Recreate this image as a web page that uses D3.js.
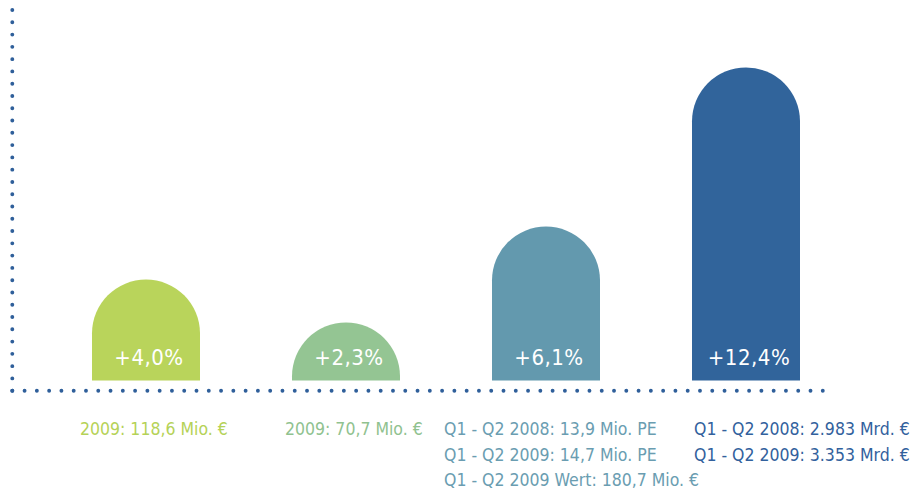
<!DOCTYPE html>
<html>
<head>
<meta charset="utf-8">
<script src="https://cdn.jsdelivr.net/npm/d3@7"></script>
<style>
  html, body { margin: 0; padding: 0; background: #fff; }
  #chart text { font-family: 'DejaVu Sans Condensed', 'DejaVu Sans', sans-serif; font-stretch: condensed; }
</style>
</head>
<body>
<div id="chart"></div>
<script>
const categories = ['a', 'b', 'c', 'd'];
const growth = [4.0, 2.3, 6.1, 12.4];
const growthLabels = ['+4,0%', '+2,3%', '+6,1%', '+12,4%'];
const notes = [
  ['2009: 118,6 Mio. €'],
  ['2009: 70,7 Mio. €'],
  ['Q1 - Q2 2008: 13,9 Mio. PE', 'Q1 - Q2 2009: 14,7 Mio. PE', 'Q1 - Q2 2009 Wert: 180,7 Mio. €'],
  ['Q1 - Q2 2008: 2.983 Mrd. €', 'Q1 - Q2 2009: 3.353 Mrd. €'],
];
const barColors = ['#b9d45b', '#94c593', '#6399ae', '#31649b'];
const noteColors = ['#b5d257', '#90c28f', '#6a9db1', '#32619d'];

const width = 916;
const height = 491;
const axisColor = '#2f5f9a';

const svg = d3
  .select('#chart')
  .append('svg')
  .attr('width', width)
  .attr('height', height);

// scales
const x = d3
  .scaleBand()
  .domain(categories)
  .range([46, 846])
  .paddingInner(0.46)
  .paddingOuter(0.23);

const y = d3.scaleLinear().domain([0, 12.4]).range([380.5, 67.5]);

// dotted axes
const axisY = y(0) + 10.2;
const dots = '0 12.28';
svg
  .append('line')
  .attr('x1', 12.3)
  .attr('x2', 12.3)
  .attr('y1', axisY)
  .attr('y2', 6)
  .attr('stroke', axisColor)
  .attr('stroke-width', 3.9)
  .attr('stroke-linecap', 'round')
  .attr('stroke-dasharray', dots);

svg
  .append('line')
  .attr('x1', 12.3)
  .attr('x2', 828)
  .attr('y1', axisY)
  .attr('y2', axisY)
  .attr('stroke', axisColor)
  .attr('stroke-width', 3.9)
  .attr('stroke-linecap', 'round')
  .attr('stroke-dasharray', dots);

// bars with rounded tops
const barPath = (d, i) => {
  const x0 = x(d);
  const w = x.bandwidth();
  const r = w / 2;
  const top = y(growth[i]);
  const bottom = y(0);
  return `M${x0},${bottom}V${top + r}A${r},${r} 0 0 1 ${x0 + w},${top + r}V${bottom}Z`;
};

svg
  .selectAll('.bar')
  .data(categories)
  .join('path')
  .attr('class', 'bar')
  .attr('d', barPath)
  .attr('fill', (d, i) => barColors[i]);

svg
  .selectAll('.value')
  .data(categories)
  .join('text')
  .attr('class', 'value')
  .attr('x', (d) => x(d) + x.bandwidth() / 2 + 3)
  .attr('y', y(0) - 16)
  .attr('text-anchor', 'middle')
  .attr('fill', '#fff')
  .style('font-size', '22px')
  .style('letter-spacing', '0.5px')
  .text((d, i) => growthLabels[i]);

// notes under the axis
const noteDx = [-12, -7, -48, 2];
const noteGroups = svg
  .selectAll('.note')
  .data(categories)
  .join('text')
  .attr('class', 'note')
  .attr('fill', (d, i) => noteColors[i])
  .style('font-size', '17.5px');

noteGroups
  .selectAll('tspan')
  .data((d, i) => notes[i].map((t) => ({ t, x: x(d) + noteDx[i] })))
  .join('tspan')
  .attr('x', (d) => d.x)
  .attr('y', (d, j) => 435 + j * 25.5)
  .text((d) => d.t);
</script>
</body>
</html>
